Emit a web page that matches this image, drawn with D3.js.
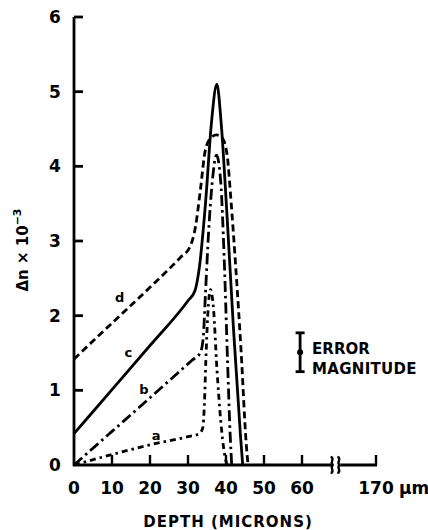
<!DOCTYPE html>
<html>
<head>
<meta charset="utf-8">
<script src="https://cdn.jsdelivr.net/npm/d3@7"></script>
<style>
  body { margin: 0; background: #fff; }
  svg text { font-family: 'DejaVu Sans', sans-serif; font-weight: bold; fill: #000; }
</style>
</head>
<body>
<svg id="chart" width="428" height="530"></svg>
<script>
// depth (microns), delta n (x 1e-3)
const curveA = [[0, 0], [10, 0.14], [20, 0.27], [30, 0.38], [33, 0.42], [33.9, 0.5], [34.3, 0.8], [34.7, 1.4], [35.2, 2.0], [35.9, 2.35], [36.7, 2.1], [37.6, 1.3], [38.6, 0.6], [39.6, 0.15], [40.3, 0]]
const curveB = [[0, 0], [10, 0.45], [20, 0.9], [31, 1.4], [33.2, 1.5], [34, 1.7], [34.6, 2.3], [35.4, 3.1], [36.4, 3.8], [37.5, 4.15], [38.6, 3.8], [39.5, 2.8], [40.4, 1.4], [41.1, 0.4], [41.5, 0]]
const curveC = [[0, 0.42], [10, 1.01], [20, 1.6], [30, 2.2], [31.8, 2.33], [33, 2.65], [34.6, 3.5], [36.2, 4.6], [37.6, 5.1], [38.7, 4.6], [40.2, 3.4], [42, 1.8], [43.8, 0.4], [44.4, 0]]
const curveD = [[0, 1.42], [10, 1.9], [20, 2.38], [28, 2.78], [30.5, 2.92], [32, 3.2], [33.3, 3.7], [34.5, 4.2], [36, 4.38], [37.5, 4.42], [39, 4.38], [40.3, 4.15], [41.3, 3.55], [42.5, 2.7], [44, 1.5], [45.3, 0.3], [45.8, 0]]

const curveLabels = ['d', 'c', 'b', 'a']
const labelDepth = [12, 14.3, 18.4, 21.6]
const labelValue = [2.23, 1.5, 1.0, 0.39]

const xTicks = [0, 10, 20, 30, 40, 50, 60, 170]
const yTicks = [0, 1, 2, 3, 4, 5, 6]

const errorDepth = 59.5
const errorCenter = 1.51
const errorHalf = 0.26

const svg = d3.select('#chart')

// broken x axis: 0-60 linear, then a jump to 170
const x = d3.scaleLinear().domain([0, 60, 170]).range([74, 302, 376])
const y = d3.scaleLinear().domain([0, 6]).range([465, 17])

const axisW = 2.8

// y axis
svg.append('line')
  .attr('x1', x(0)).attr('x2', x(0))
  .attr('y1', y(0) + 1).attr('y2', y(6))
  .attr('stroke', '#000').attr('stroke-width', axisW)

svg.selectAll('.ytick')
  .data(yTicks.filter(d => d > 0))
  .enter()
  .append('line')
  .attr('class', 'ytick')
  .attr('x1', x(0)).attr('x2', x(0) + 9)
  .attr('y1', d => y(d)).attr('y2', d => y(d))
  .attr('stroke', '#000').attr('stroke-width', axisW)

svg.selectAll('.ylabel')
  .data(yTicks)
  .enter()
  .append('text')
  .attr('class', 'ylabel')
  .attr('x', 55)
  .attr('y', d => y(d) + 6)
  .attr('text-anchor', 'middle')
  .style('font-size', '17px')
  .text(d => d)

// x axis, with a break between 60 and 170
const breakL = x(104)
const breakR = x(117)
svg.append('line')
  .attr('x1', x(0) - 1).attr('x2', breakL)
  .attr('y1', y(0)).attr('y2', y(0))
  .attr('stroke', '#000').attr('stroke-width', axisW)
svg.append('line')
  .attr('x1', breakR).attr('x2', x(170) + 1)
  .attr('y1', y(0)).attr('y2', y(0))
  .attr('stroke', '#000').attr('stroke-width', axisW)

const squiggle = bx => `M${bx - 1},${y(0) - 8} C${bx + 4},${y(0) - 7} ${bx - 3},${y(0) - 1} ${bx + 2},${y(0)} C${bx - 3},${y(0) + 1} ${bx + 4},${y(0) + 7} ${bx - 1},${y(0) + 8}`
svg.append('path').attr('d', squiggle(breakL))
  .attr('fill', 'none').attr('stroke', '#000').attr('stroke-width', 2.4)
svg.append('path').attr('d', squiggle(breakR - 2))
  .attr('fill', 'none').attr('stroke', '#000').attr('stroke-width', 2.4)

svg.selectAll('.xtick')
  .data(xTicks.filter(d => d > 0))
  .enter()
  .append('line')
  .attr('class', 'xtick')
  .attr('x1', d => x(d)).attr('x2', d => x(d))
  .attr('y1', y(0)).attr('y2', y(0) - 10)
  .attr('stroke', '#000').attr('stroke-width', 2.4)

svg.selectAll('.xlabel')
  .data(xTicks)
  .enter()
  .append('text')
  .attr('class', 'xlabel')
  .attr('x', d => x(d))
  .attr('y', 494)
  .attr('text-anchor', 'middle')
  .style('font-size', '17px')
  .text(d => d)

svg.append('text')
  .attr('x', x(170) + 23)
  .attr('y', 494)
  .attr('text-anchor', 'start')
  .style('font-size', '17px')
  .text('\u00b5m')

// axis titles
svg.append('text')
  .attr('x', 228)
  .attr('y', 527)
  .attr('text-anchor', 'middle')
  .style('font-size', '15px')
  .style('letter-spacing', '1px')
  .text('DEPTH  (MICRONS)')

svg.append('text')
  .attr('transform', 'translate(28,250) rotate(-90)')
  .attr('text-anchor', 'middle')
  .style('font-size', '15px')
  .text('\u0394n \u00d7 10')
  .append('tspan')
  .attr('dy', -7)
  .style('font-size', '11px')
  .text('\u22123')

// curves
const line = d3.line()
  .x(d => x(d[0]))
  .y(d => y(d[1]))
  .curve(d3.curveMonotoneX)

const series = [
  { pts: curveD, dash: '7,4' },
  { pts: curveC, dash: null },
  { pts: curveB, dash: '11,4,2.5,4' },
  { pts: curveA, dash: '6,4,2.5,4' }
]

svg.selectAll('.curve')
  .data(series)
  .enter()
  .append('path')
  .attr('class', 'curve')
  .attr('d', d => line(d.pts))
  .attr('fill', 'none')
  .attr('stroke', '#000')
  .attr('stroke-width', 2.8)
  .attr('stroke-dasharray', d => d.dash)

svg.selectAll('.clabel')
  .data(curveLabels)
  .enter()
  .append('text')
  .attr('class', 'clabel')
  .attr('x', (d, i) => x(labelDepth[i]))
  .attr('y', (d, i) => y(labelValue[i]) + 4)
  .attr('text-anchor', 'middle')
  .style('font-size', '13px')
  .text(d => d)

// error magnitude bar
const ex = x(errorDepth)
const eg = svg.append('g')
eg.append('line')
  .attr('x1', ex).attr('x2', ex)
  .attr('y1', y(errorCenter + errorHalf)).attr('y2', y(errorCenter - errorHalf))
  .attr('stroke', '#000').attr('stroke-width', 2.8)
;[errorCenter + errorHalf, errorCenter - errorHalf].forEach(v => {
  eg.append('line')
    .attr('x1', ex - 4.5).attr('x2', ex + 4.5)
    .attr('y1', y(v)).attr('y2', y(v))
    .attr('stroke', '#000').attr('stroke-width', 2.8)
})
eg.append('circle')
  .attr('cx', ex).attr('cy', y(errorCenter))
  .attr('r', 3).attr('fill', '#000')

svg.append('text')
  .attr('x', ex + 12).attr('y', y(errorCenter) + 2)
  .style('font-size', '15px')
  .text('ERROR')
svg.append('text')
  .attr('x', ex + 12).attr('y', y(errorCenter) + 22)
  .style('font-size', '15px')
  .style('letter-spacing', '0.3px')
  .text('MAGNITUDE')
</script>
</body>
</html>
